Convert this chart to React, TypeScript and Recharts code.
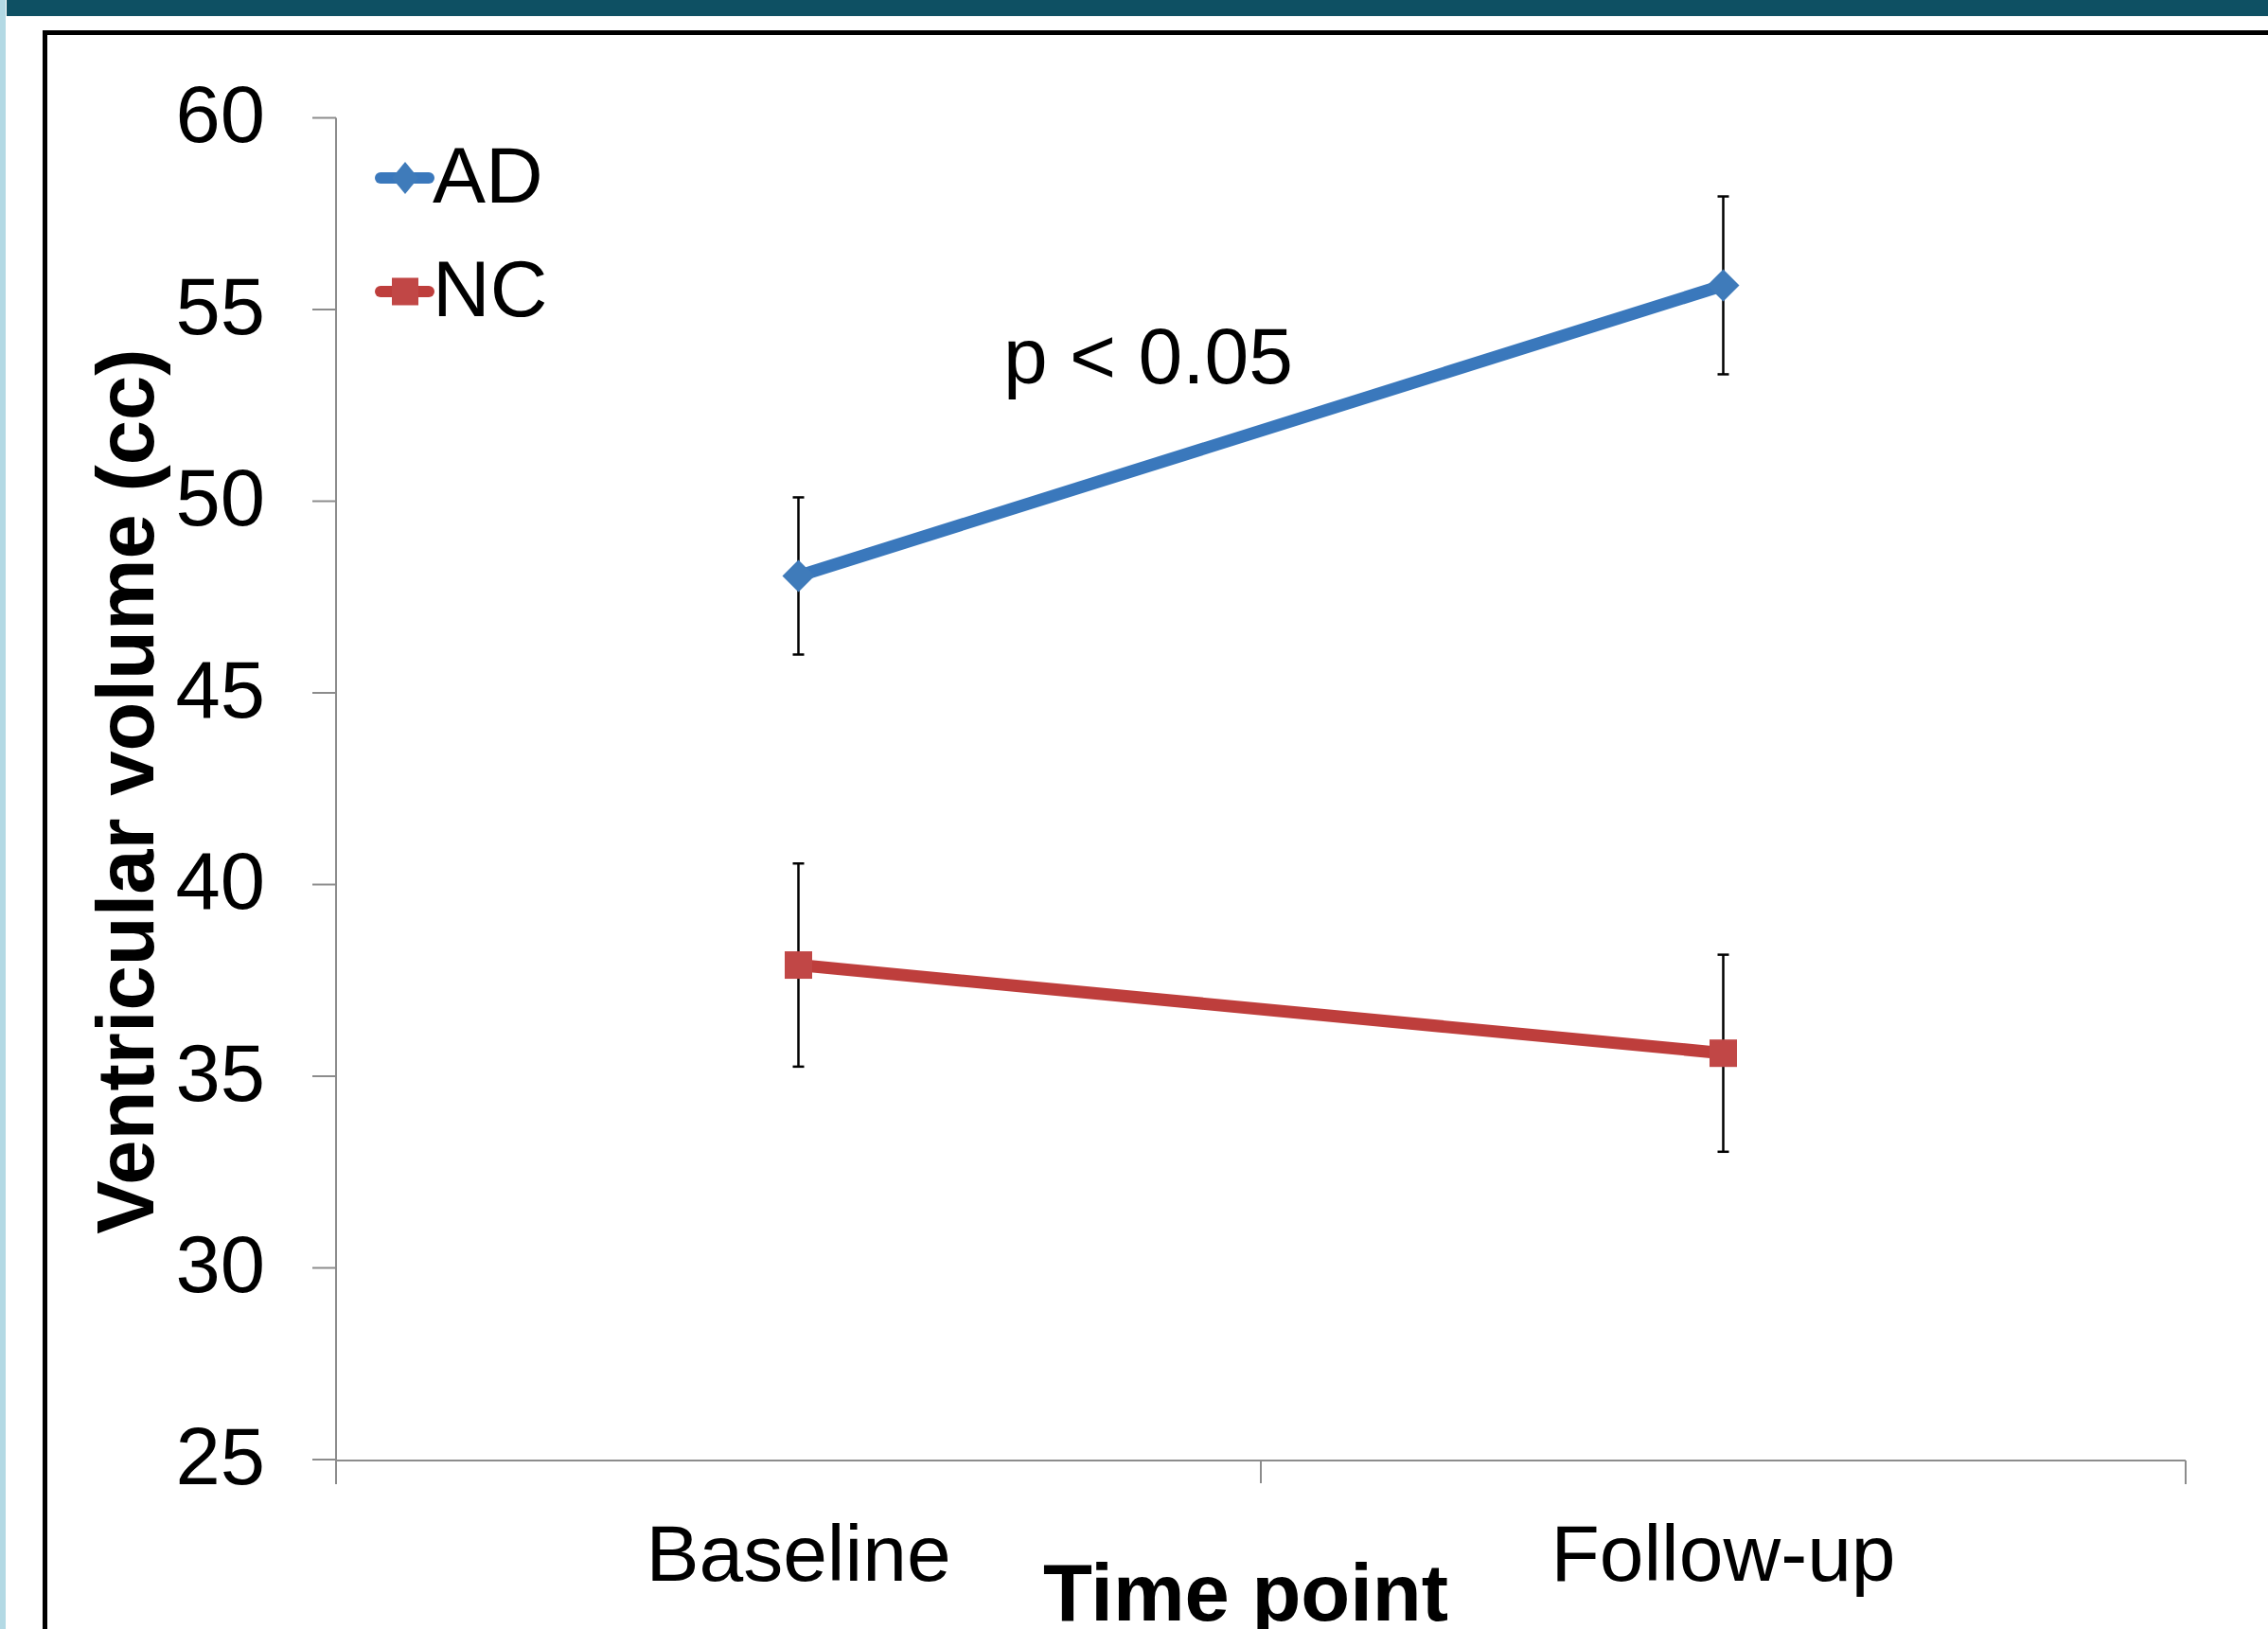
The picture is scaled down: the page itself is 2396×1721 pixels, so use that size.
import React from 'react';
import { ComposedChart, Line, XAxis, YAxis, ErrorBar, Legend } from 'recharts';

const FONT = '"Liberation Sans", Arial, Helvetica, sans-serif';

// ---- data ----
const categories = ['Baseline', 'Follow-up'];
const adValues = [48.05, 55.63];
const adErrors = [2.05, 2.32];
const ncValues = [37.9, 35.6];
const ncErrors = [2.65, 2.57];
const yTicks = [25, 30, 35, 40, 45, 50, 55, 60];
const boundaryTicks = [0, 1, 2];
const seriesNames = ['AD', 'NC'];
const yTitle = 'Ventricular volume (cc)';
const xTitle = 'Time point';
const annotation = 'p < 0.05';

const data = categories.map((c, i) => ({
  time: c,
  ad: adValues[i],
  adErr: adErrors[i],
  nc: ncValues[i],
  ncErr: ncErrors[i],
}));

// ---- styles ----
const AD_LINE = '#3A78BC';
const AD_MARK = '#3F7BBA';
const NC_LINE = '#BE3E3C';
const NC_MARK = '#C14746';
const AXIS = '#8C8C8C';
const X_TICK_MARGIN = 68;
const TICK_LEN = 25;

const Diamond = (props: any) => {
  const { cx, cy, index } = props;
  if (cx == null || cy == null) return null;
  const r = 17;
  return (
    <path
      key={`d-${index}`}
      d={`M${cx},${cy - r}L${cx + r},${cy}L${cx},${cy + r}L${cx - r},${cy}Z`}
      fill={AD_MARK}
    />
  );
};

const Square = (props: any) => {
  const { cx, cy, index } = props;
  if (cx == null || cy == null) return null;
  const h = 14.5;
  return <rect key={`s-${index}`} x={cx - h} y={cy - h} width={2 * h} height={2 * h} fill={NC_MARK} />;
};

const CategoryTick = (props: any) => {
  const { x, y, payload } = props;
  const off = payload && typeof payload.offset === 'number' ? payload.offset : 0;
  const axisY = y - X_TICK_MARGIN;
  return (
    <g>
      {off > 0 && (
        <line x1={x - off} y1={axisY} x2={x - off} y2={axisY + TICK_LEN} stroke={AXIS} strokeWidth={2} />
      )}
      <text x={x} y={y} dy="0.71em" textAnchor="middle" fontSize={84} fontFamily={FONT} fill="#000">
        {payload.value}
      </text>
    </g>
  );
};

const ValueTick = (props: any) => {
  const { x, y, payload } = props;
  return (
    <text x={x} y={y} dy="0.3em" textAnchor="end" fontSize={85} fontFamily={FONT} fill="#000">
      {payload.value}
    </text>
  );
};

const renderLegend = (props: any) => {
  const payload = props.payload || [];
  return (
    <svg width={320} height={240} style={{ display: 'block', overflow: 'visible' }}>
      {payload.map((p: any, i: number) => {
        const cy = 60 + i * 120;
        const isAD = p.value === seriesNames[0];
        const color = isAD ? AD_LINE : NC_LINE;
        return (
          <g key={p.value}>
            <line x1={12} y1={cy} x2={63} y2={cy} stroke={color} strokeWidth={12} strokeLinecap="round" />
            {isAD ? (
              <path d={`M38,${cy - 17}L52,${cy}L38,${cy + 17}L24,${cy}Z`} fill={AD_MARK} />
            ) : (
              <rect x={24} y={cy - 14.5} width={28} height={29} fill={NC_MARK} />
            )}
            <text x={67} y={cy + 26} fontSize={84} fontFamily={FONT} fill="#000">
              {p.value}
            </text>
          </g>
        );
      })}
    </svg>
  );
};

const YTitle = () => (
  <text
    x={162}
    y={836}
    transform="rotate(-90 162 836)"
    textAnchor="middle"
    fontSize={85}
    fontWeight="bold"
    fontFamily={FONT}
    fill="#000"
  >
    {yTitle}
  </text>
);

const XTitle = () => (
  <text x={1316} y={1712} textAnchor="middle" fontSize={85} fontWeight="bold" fontFamily={FONT} fill="#000">
    {xTitle}
  </text>
);

export default function App() {
  return (
    <div
      style={{
        position: 'absolute',
        left: 0,
        top: 0,
        width: 2396,
        height: 1721,
        overflow: 'hidden',
        background: '#fff',
        fontFamily: FONT,
      }}
    >
      {/* decorative slide elements */}
      <div style={{ position: 'absolute', left: 0, top: 0, width: 6, height: 1721, background: '#B3D9E4' }} />
      <div style={{ position: 'absolute', left: 7, top: 0, width: 2389, height: 17, background: '#0E5063' }} />
      <div
        style={{
          position: 'absolute',
          left: 45,
          top: 32,
          width: 2500,
          height: 1800,
          border: '5px solid #000',
          boxSizing: 'border-box',
        }}
      />
      <div style={{ position: 'absolute', left: 0, top: 0 }}>
        <ComposedChart
          width={2396}
          height={1721}
          data={data}
          margin={{ top: 124.5, right: 87, bottom: 177, left: 155 }}
        >
          <XAxis
            dataKey="time"
            type="category"
            scale="band"
            axisLine={false}
            tickLine={false}
            tickSize={0}
            tickMargin={X_TICK_MARGIN}
            height={1}
            interval={0}
            tick={<CategoryTick />}
            label={<XTitle />}
          />
          <XAxis
            xAxisId="bounds"
            type="number"
            domain={[0, 2]}
            ticks={boundaryTicks}
            allowDataOverflow
            tickFormatter={() => ' '}
            tickSize={TICK_LEN}
            height={1}
            interval={0}
            minTickGap={0}
            axisLine={{ stroke: AXIS, strokeWidth: 2 }}
            tickLine={{ stroke: AXIS, strokeWidth: 2 }}
          />
          <YAxis
            domain={[25, 60]}
            ticks={yTicks}
            interval={0}
            width={200}
            tickSize={TICK_LEN}
            tickMargin={50}
            axisLine={{ stroke: AXIS, strokeWidth: 2 }}
            tickLine={{ stroke: AXIS, strokeWidth: 2 }}
            tick={<ValueTick />}
            label={<YTitle />}
          />
          <Legend
            layout="vertical"
            align="center"
            verticalAlign="middle"
            content={renderLegend}
            wrapperStyle={{ left: 390, top: 128, width: 320, height: 240 }}
          />
          <Line
            dataKey="ad"
            name={seriesNames[0]}
            stroke={AD_LINE}
            strokeWidth={13}
            dot={Diamond}
            activeDot={false}
            isAnimationActive={false}
          >
            <ErrorBar dataKey="adErr" width={6} stroke="#000" strokeWidth={2.5} direction="y" isAnimationActive={false} />
          </Line>
          <Line
            dataKey="nc"
            name={seriesNames[1]}
            stroke={NC_LINE}
            strokeWidth={13}
            dot={Square}
            activeDot={false}
            isAnimationActive={false}
          >
            <ErrorBar dataKey="ncErr" width={6} stroke="#000" strokeWidth={2.5} direction="y" isAnimationActive={false} />
          </Line>
        </ComposedChart>
      </div>
      <svg
        width={2396}
        height={1721}
        style={{ position: 'absolute', left: 0, top: 0, pointerEvents: 'none' }}
      >
        <text x={1060} y={405} fontSize={84} fontFamily={FONT} fill="#000">
          {annotation}
        </text>
      </svg>
    </div>
  );
}
